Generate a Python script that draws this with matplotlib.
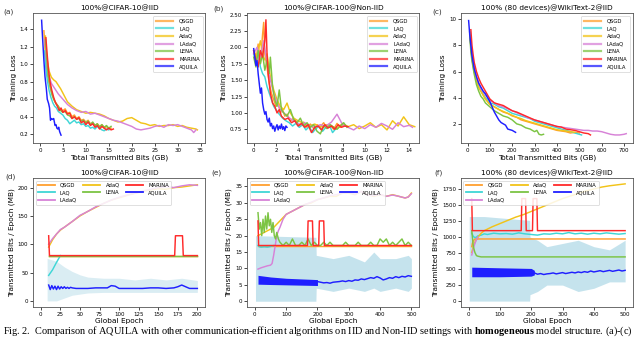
import matplotlib
matplotlib.use("Agg")
import matplotlib.pyplot as plt
import numpy as np

# ---------------- colours ----------------
C_QSGD = '#FF9F2E'
C_LAQ = '#3FD6D6'
C_ADAQ = '#F2C318'
C_LADAQ = '#D782D7'
C_LENA = '#7CC443'
C_MARINA = '#FF2A2A'
C_AQUILA = '#1F1FFF'
C_RAW = '#ADD8E6'

# ---------------- (a) CIFAR-10 IID: training loss ----------------
a_aquila_x = [0.37, 0.6, 0.87, 1.1, 1.4, 1.6, 1.9, 2.1, 2.3, 2.5, 2.8, 3.0, 3.3, 3.5, 3.7, 3.9, 4.1, 4.3, 4.6]
a_aquila_y = [1.50, 1.28, 1.04, 0.86, 0.72, 0.60, 0.55, 0.50, 0.36, 0.38, 0.37, 0.38, 0.30, 0.31, 0.27, 0.26, 0.28, 0.23, 0.19]
a_qsgd_x = [0.87, 1.1, 1.4, 1.7, 2.0, 2.4, 2.8, 3.2, 3.6, 4.0, 4.5, 5.0, 5.5, 6.0, 6.5, 7.0, 7.5, 8.0, 8.5, 9.0, 9.5, 10, 10.5, 11, 11.5, 12, 12.5, 13, 13.5, 14, 14.5, 15, 15.5]
a_qsgd_y = [1.38, 1.18, 0.98, 0.86, 0.78, 0.70, 0.63, 0.58, 0.55, 0.52, 0.48, 0.47, 0.49, 0.44, 0.45, 0.40, 0.42, 0.38, 0.40, 0.36, 0.37, 0.34, 0.36, 0.32, 0.33, 0.30, 0.32, 0.29, 0.31, 0.27, 0.29, 0.26, 0.27]
a_laq_x = [1.0, 1.3, 1.6, 2.0, 2.4, 2.8, 3.2, 3.6, 4.0, 4.5, 5.0, 5.5, 6.0, 6.5, 7.0, 7.5, 8.0, 8.5, 9.0, 9.5, 10, 10.5, 11, 11.5, 12, 12.5, 13, 13.5, 14, 14.5, 15]
a_laq_y = [1.15, 0.95, 0.82, 0.70, 0.62, 0.56, 0.52, 0.50, 0.46, 0.44, 0.42, 0.38, 0.36, 0.32, 0.34, 0.36, 0.33, 0.34, 0.31, 0.32, 0.29, 0.30, 0.27, 0.28, 0.26, 0.29, 0.27, 0.25, 0.24, 0.26, 0.25]
a_adaq_x = [1.2, 1.5, 2.0, 2.5, 3.0, 3.5, 4, 4.5, 5, 5.5, 6, 7, 8, 9, 10, 11, 12, 13, 14, 15, 16, 17, 18, 19, 20, 21, 22, 23, 24, 25, 26, 27, 28, 29, 30, 31, 32, 33, 34, 34.3]
a_adaq_y = [1.32, 1.08, 0.92, 0.85, 0.82, 0.80, 0.76, 0.72, 0.67, 0.62, 0.57, 0.52, 0.48, 0.46, 0.44, 0.45, 0.44, 0.43, 0.41, 0.38, 0.36, 0.34, 0.35, 0.38, 0.39, 0.36, 0.33, 0.32, 0.30, 0.31, 0.29, 0.30, 0.30, 0.31, 0.29, 0.30, 0.28, 0.27, 0.26, 0.25]
a_ladaq_x = [1.1, 1.5, 2.0, 2.5, 3.0, 3.5, 4, 4.5, 5, 5.5, 6, 7, 8, 9, 10, 11, 12, 13, 14, 15, 16, 17, 18, 19, 20, 21, 22, 23, 24, 25, 26, 27, 28, 29, 30, 31, 32, 33, 33.5, 34]
a_ladaq_y = [1.28, 1.00, 0.86, 0.78, 0.74, 0.70, 0.66, 0.63, 0.60, 0.57, 0.54, 0.50, 0.47, 0.45, 0.46, 0.43, 0.44, 0.42, 0.40, 0.38, 0.36, 0.35, 0.33, 0.31, 0.29, 0.26, 0.25, 0.26, 0.27, 0.29, 0.30, 0.28, 0.31, 0.30, 0.31, 0.29, 0.27, 0.25, 0.22, 0.25]
a_lena_x = [1.2, 1.5, 1.8, 2.2, 2.6, 3.0, 3.5, 4.0, 4.5, 5.0, 5.5, 6.0, 6.5, 7.0, 7.5, 8.0, 8.5, 9.0, 9.5, 10, 10.5, 11, 11.5, 12, 12.5, 13, 13.5, 14, 14.5, 15, 15.5]
a_lena_y = [1.28, 1.05, 0.88, 0.76, 0.66, 0.60, 0.55, 0.52, 0.47, 0.45, 0.46, 0.42, 0.41, 0.38, 0.40, 0.37, 0.38, 0.35, 0.36, 0.33, 0.35, 0.31, 0.34, 0.30, 0.32, 0.28, 0.31, 0.28, 0.30, 0.27, 0.29]
a_marina_x = [1.3, 1.6, 1.9, 2.2, 2.6, 3.0, 3.4, 3.8, 4.2, 4.6, 5.0, 5.5, 6.0, 6.5, 7.0, 7.5, 8.0, 8.5, 9.0, 9.5, 10, 10.5, 11, 11.5, 12, 12.5, 13, 13.5, 14, 14.5, 15, 15.5, 16]
a_marina_y = [1.30, 1.10, 0.92, 0.80, 0.70, 0.62, 0.56, 0.52, 0.47, 0.50, 0.45, 0.47, 0.43, 0.44, 0.38, 0.40, 0.37, 0.39, 0.33, 0.35, 0.31, 0.34, 0.30, 0.32, 0.28, 0.30, 0.26, 0.29, 0.27, 0.25, 0.27, 0.25, 0.26]

# ---------------- (b) CIFAR-100 Non-IID: training loss ----------------
b_aquila_x = [0.0, 0.1, 0.2, 0.3, 0.4, 0.5, 0.6, 0.7, 0.8, 0.9, 1.0, 1.1, 1.2, 1.3, 1.4, 1.5, 1.6, 1.7, 1.8, 1.9, 2.0, 2.1, 2.2, 2.3, 2.4, 2.5, 2.6, 2.7, 2.8, 2.9, 3.0]
b_aquila_y = [1.98, 1.85, 1.72, 1.80, 1.60, 1.45, 1.30, 1.38, 1.15, 1.05, 0.98, 1.02, 0.90, 0.86, 0.92, 0.80, 0.84, 0.76, 0.80, 0.72, 0.78, 0.82, 0.74, 0.80, 0.76, 0.83, 0.75, 0.79, 0.73, 0.80, 0.78]
b_qsgd_x = [0.0, 0.2, 0.4, 0.6, 0.8, 0.9, 1.0, 1.2, 1.4, 1.6, 1.8, 2.0, 2.2, 2.4, 2.6, 2.8, 3.0, 3.3, 3.6, 3.9, 4.2, 4.5, 4.8, 5.1, 5.4, 5.7, 6.0, 6.3, 6.6, 6.9, 7.2, 7.5, 7.8, 8.1, 8.4]
b_qsgd_y = [1.95, 1.80, 2.05, 1.75, 2.20, 2.38, 1.90, 1.70, 1.45, 1.30, 1.20, 1.10, 1.15, 1.00, 1.05, 0.95, 0.98, 0.88, 0.92, 0.85, 0.80, 0.86, 0.78, 0.83, 0.76, 0.82, 0.79, 0.85, 0.77, 0.81, 0.75, 0.84, 0.78, 0.82, 0.79]
b_laq_x = [0.0, 0.2, 0.4, 0.6, 0.8, 1.0, 1.2, 1.4, 1.6, 1.8, 2.0, 2.3, 2.6, 2.9, 3.2, 3.5, 3.8, 4.1, 4.4, 4.7, 5.0, 5.3, 5.6, 5.9, 6.2, 6.5, 6.8, 7.1, 7.4]
b_laq_y = [1.90, 1.75, 1.95, 1.70, 1.60, 1.55, 1.40, 1.30, 1.20, 1.10, 1.05, 0.98, 0.92, 0.88, 0.85, 0.80, 0.84, 0.78, 0.82, 0.74, 0.79, 0.70, 0.76, 0.80, 0.72, 0.78, 0.82, 0.70, 0.76]
b_adaq_x = [0.0, 0.3, 0.6, 0.9, 1.2, 1.5, 1.8, 2.1, 2.4, 2.7, 3.0, 3.3, 3.6, 4.0, 4.5, 5.0, 5.5, 6.0, 6.5, 7.0, 7.5, 8.0, 8.5, 9.0, 9.5, 10.0, 10.5, 11.0, 11.5, 12.0, 12.5, 13.0, 13.5, 14.0, 14.5]
b_adaq_y = [1.95, 1.85, 2.10, 1.80, 1.90, 1.55, 1.35, 1.20, 1.10, 1.05, 1.15, 1.00, 0.92, 0.88, 0.84, 0.80, 0.83, 0.78, 0.82, 0.80, 0.76, 0.84, 0.79, 0.82, 0.76, 0.80, 0.85, 0.78, 0.82, 0.74, 0.88, 0.80, 0.94, 0.82, 0.79]
b_ladaq_x = [0.0, 0.3, 0.6, 0.9, 1.2, 1.5, 1.8, 2.1, 2.4, 2.7, 3.0, 3.4, 3.8, 4.2, 4.6, 5.0, 5.5, 6.0, 6.5, 7.0, 7.5, 8.0, 8.5, 9.0, 9.5, 10, 10.5, 11, 11.5, 12, 12.5, 13, 13.5, 14, 14.3]
b_ladaq_y = [1.90, 2.00, 1.85, 2.10, 1.75, 1.50, 1.30, 1.15, 1.05, 1.00, 0.95, 0.90, 0.86, 0.82, 0.85, 0.80, 0.78, 0.82, 0.80, 0.86, 0.98, 0.82, 0.78, 0.74, 0.80, 0.76, 0.82, 0.78, 0.84, 0.80, 0.75, 0.85, 0.79, 0.81, 0.78]
b_lena_x = [0.0, 0.2, 0.4, 0.6, 0.8, 1.0, 1.2, 1.4, 1.5, 1.7, 1.9, 2.1, 2.3, 2.5, 2.7, 3.0, 3.3, 3.6, 3.9, 4.2, 4.5, 4.8, 5.1, 5.4, 5.7, 6.0, 6.3, 6.6, 6.9, 7.2, 7.5, 7.8, 8.1, 8.4]
b_lena_y = [1.85, 1.70, 1.95, 1.75, 1.90, 1.65, 1.80, 1.60, 1.85, 1.40, 1.20, 1.10, 1.35, 1.05, 1.00, 0.95, 1.05, 0.90, 0.85, 0.92, 0.80, 0.85, 0.78, 0.82, 0.72, 0.68, 0.80, 0.76, 0.82, 0.78, 0.75, 0.80, 0.85, 0.78]
b_marina_x = [0.0, 0.2, 0.4, 0.6, 0.8, 1.0, 1.1, 1.2, 1.3, 1.5, 1.7, 1.9, 2.1, 2.3, 2.5, 2.8, 3.1, 3.4, 3.7, 4.0, 4.3, 4.6, 4.9, 5.2, 5.5, 5.8, 6.1, 6.4, 6.7, 7.0, 7.3, 7.6, 7.9, 8.2, 8.5]
b_marina_y = [1.95, 1.80, 1.70, 1.95, 1.85, 2.10, 2.42, 1.90, 1.60, 1.30, 1.15, 1.10, 1.00, 1.05, 0.95, 0.90, 0.92, 0.85, 0.88, 0.80, 0.84, 0.78, 0.82, 0.70, 0.78, 0.80, 0.74, 0.82, 0.77, 0.80, 0.75, 0.82, 0.78, 0.80, 0.79]

# ---------------- (c) WikiText-2 IID: training loss ----------------
c_aquila_x = [5, 10, 15, 20, 30, 40, 50, 60, 70, 80, 90, 100, 110, 120, 130, 140, 150, 160, 170, 180, 190, 200, 210, 215]
c_aquila_y = [9.9, 8.8, 8.0, 7.2, 6.2, 5.6, 5.1, 4.8, 4.5, 4.3, 4.0, 3.7, 3.3, 2.9, 2.6, 2.3, 2.1, 2.0, 1.9, 1.6, 1.55, 1.5, 1.4, 1.35]
c_lena_x = [10, 15, 20, 30, 40, 50, 60, 70, 80, 100, 120, 140, 160, 180, 200, 220, 240, 260, 280, 300, 310, 320, 330, 340]
c_lena_y = [8.8, 7.5, 6.8, 5.8, 5.0, 4.5, 4.1, 3.9, 3.6, 3.3, 3.0, 2.8, 2.6, 2.5, 2.3, 2.0, 1.9, 1.7, 1.6, 1.4, 1.5, 1.2, 1.15, 1.2]
c_qsgd_x = [10, 15, 20, 30, 40, 50, 60, 80, 100, 120, 140, 160, 180, 200, 220, 240, 260, 280, 300, 320, 340, 360, 380, 400, 420, 440, 460, 480, 500]
c_qsgd_y = [9.0, 7.8, 7.0, 6.0, 5.3, 4.8, 4.5, 3.9, 3.5, 3.3, 3.1, 2.9, 2.8, 2.6, 2.5, 2.3, 2.2, 2.1, 2.0, 1.9, 1.8, 1.7, 1.6, 1.5, 1.45, 1.4, 1.3, 1.35, 1.3]
c_laq_x = [10, 15, 20, 30, 40, 50, 60, 80, 100, 120, 140, 160, 180, 200, 220, 240, 260, 280, 300, 320, 340, 360, 380, 400, 420, 440, 460, 480, 500, 510]
c_laq_y = [9.0, 7.9, 7.1, 6.1, 5.4, 4.9, 4.6, 4.0, 3.6, 3.5, 3.3, 3.2, 3.0, 2.8, 2.7, 2.6, 2.5, 2.4, 2.2, 2.1, 2.0, 1.9, 1.8, 1.7, 1.6, 1.5, 1.4, 1.3, 1.2, 1.15]
c_adaq_x = [10, 20, 30, 40, 50, 60, 80, 100, 120, 140, 160, 180, 200, 220, 240, 260, 280, 300, 320, 340, 360, 380, 400, 420, 440, 460, 480]
c_adaq_y = [9.0, 7.0, 6.0, 5.3, 4.8, 4.5, 3.9, 3.5, 3.3, 3.1, 2.95, 2.8, 2.65, 2.5, 2.4, 2.25, 2.15, 2.05, 1.95, 1.85, 1.75, 1.65, 1.55, 1.5, 1.45, 1.4, 1.35]
c_marina_x = [15, 20, 25, 30, 40, 50, 60, 70, 80, 100, 120, 140, 160, 180, 200, 220, 240, 260, 280, 300, 320, 340, 360, 380, 400, 420, 440, 460, 480, 500, 520, 540, 550]
c_marina_y = [9.2, 8.0, 7.3, 6.7, 6.0, 5.5, 5.1, 4.8, 4.5, 3.9, 3.6, 3.5, 3.4, 3.2, 3.0, 2.9, 2.75, 2.6, 2.45, 2.3, 2.2, 2.1, 2.0, 1.9, 1.8, 1.75, 1.6, 1.55, 1.5, 1.4, 1.3, 1.25, 1.15]
c_ladaq_x = [10, 20, 30, 40, 60, 80, 100, 120, 140, 160, 180, 200, 220, 240, 260, 280, 300, 320, 340, 360, 380, 400, 420, 440, 460, 480, 500, 520, 540, 560, 580, 600, 620, 640, 660, 680, 700, 710]
c_ladaq_y = [9.0, 7.4, 6.3, 5.6, 4.7, 4.2, 3.8, 3.6, 3.4, 3.3, 3.15, 3.0, 2.85, 2.7, 2.55, 2.4, 2.3, 2.2, 2.1, 2.0, 1.9, 1.8, 1.75, 1.7, 1.65, 1.6, 1.55, 1.5, 1.5, 1.45, 1.45, 1.4, 1.3, 1.2, 1.15, 1.15, 1.2, 1.25]

# ---------------- (d) CIFAR-10 IID: bits per epoch ----------------
d_qsgd_x = [10, 200]
d_qsgd_y = [80, 80]
d_lena_x = [10, 200]
d_lena_y = [80, 80]
d_laq_x = [10, 15, 20, 25]
d_laq_y = [45, 55, 68, 80]
d_marina_x = [10, 11, 171, 172, 181, 182, 200]
d_marina_y = [115, 80, 80, 115, 115, 80, 80]
d_adaq_x = [10, 15, 20, 25, 30, 40, 50, 60, 70, 80, 90, 100, 110, 120, 130, 140, 150, 160, 170, 180, 190, 200]
d_adaq_y = [95, 108, 118, 125, 130, 140, 150, 158, 165, 172, 178, 182, 186, 190, 193, 196, 198, 197, 200, 201, 203, 205]
d_ladaq_x = [10, 15, 20, 25, 30, 40, 50, 60, 70, 80, 90, 100, 110, 120, 130, 140, 150, 160, 170, 180, 190, 200]
d_ladaq_y = [100, 110, 118, 126, 130, 140, 151, 158, 166, 172, 178, 183, 187, 190, 194, 197, 200, 202, 200, 203, 205, 204]
d_aquila_x = [10, 12, 14, 16, 18, 20, 22, 24, 26, 28, 30, 32, 34, 36, 38, 40, 45, 50, 60, 70, 80, 85, 90, 95, 100, 105, 110, 120, 130, 140, 150, 160, 170, 175, 180, 185, 190, 195, 200]
d_aquila_y = [28, 20, 27, 21, 26, 20, 26, 21, 25, 22, 25, 22, 24, 22, 24, 23, 22, 22, 22, 23, 23, 23, 27, 26, 22, 22, 22, 22, 22, 23, 23, 22, 23, 25, 28, 25, 22, 22, 22]
d_raw_x = [8, 20, 30, 40, 50, 60, 80, 100, 120, 140, 160, 180, 200]
d_raw_hi = [75, 70, 60, 52, 46, 42, 40, 40, 37, 40, 37, 40, 36]
d_raw_lo = [0, 0, 5, 10, 12, 14, 15, 15, 15, 15, 15, 15, 15]

# ---------------- (e) CIFAR-100 Non-IID: bits per epoch ----------------
e_qsgd_x = [10, 500]
e_qsgd_y = [17, 17]
e_laq_x = [10, 15, 20, 30, 40, 50, 60]
e_laq_y = [17, 16.6, 16.5, 16.6, 16.5, 16.7, 17]
e_lena_x = [10, 14, 18, 22, 26, 30, 34, 38, 42, 46, 50, 54, 58, 62, 66, 70, 75, 80, 90, 100, 110, 120, 130, 140, 150, 160, 170, 180, 190, 200, 210, 220, 230, 240, 250, 260, 270, 280, 290, 300, 310, 320, 330, 340, 350, 360, 370, 380, 390, 400, 410, 420, 430, 440, 450, 460, 470, 480, 490, 500]
e_lena_y = [27, 22, 24, 20, 25, 21, 26, 22, 27, 23, 25, 21, 24, 20, 19, 21, 19, 18, 17, 18, 17, 19, 17, 17, 18, 17, 19, 17, 18, 17, 17, 18, 17, 18, 17, 17, 17, 17, 18, 17, 17, 17, 18, 17, 17, 17, 18, 17, 17, 19, 18, 19, 17, 18, 17, 18, 19, 17, 18, 17]
e_marina_x = [10, 12, 168, 170, 184, 186, 204, 206, 220, 222, 500]
e_marina_y = [24.5, 17, 17, 24.5, 24.5, 17, 17, 24.5, 24.5, 17, 17]
e_adaq_x = [10, 20, 30, 40, 50, 60, 70, 80, 90, 100, 120, 140, 160, 180, 200, 220, 240, 260, 280, 300, 320, 340, 360, 380, 400, 420, 440, 460, 480, 490, 500]
e_adaq_y = [20, 20.5, 21, 21.5, 22, 22.5, 23.5, 24.5, 25.5, 26.5, 27.5, 28.5, 29.5, 30, 31, 31.5, 32, 32, 33, 33, 32.5, 33.5, 32.5, 32, 32.5, 32, 32.5, 32, 31.5, 31.8, 33]
e_ladaq_x = [10, 20, 30, 40, 50, 55, 60, 65, 70, 75, 80, 90, 100, 120, 140, 160, 180, 200, 220, 240, 260, 280, 300, 320, 340, 360, 380, 400, 420, 440, 460, 480, 490, 500]
e_ladaq_y = [9.8, 10.2, 10.5, 10.8, 11, 11.5, 14, 17, 20, 21.5, 22.5, 25, 26.5, 27.5, 28.5, 29.5, 30.2, 31, 31.5, 32.2, 32.5, 33, 33.2, 32.6, 33.5, 32.4, 32.2, 32.6, 32, 32.4, 32, 31.5, 31.8, 32.8]
e_aqband_x = [10, 50, 100, 150, 200]
e_aqband_hi = [7.9, 7.4, 7.0, 6.8, 6.6]
e_aqband_lo = [5.2, 5.1, 5.0, 4.9, 4.8]
e_aquila_x = [200, 210, 220, 230, 240, 250, 260, 270, 280, 290, 300, 310, 320, 330, 340, 350, 360, 370, 380, 390, 400, 410, 420, 430, 440, 450, 460, 470, 480, 490, 500]
e_aquila_y = [6.0, 5.8, 5.6, 5.7, 5.5, 5.8, 5.9, 6.0, 6.2, 6.0, 6.3, 6.1, 6.5, 6.4, 6.8, 6.6, 6.9, 7.2, 7.0, 7.5, 7.1, 6.5, 6.8, 7.2, 7.0, 7.5, 7.2, 7.6, 7.4, 7.8, 7.6]
e_raw_x = [2, 195, 196, 250, 300, 350, 380, 400, 450, 490, 500]
e_raw_hi = [20, 19.5, 14, 13, 14, 12, 15, 13, 13, 14, 13]
e_raw_lo = [0, 0, 4, 3, 4, 3, 4, 3, 4, 3, 4]

# ---------------- (f) WikiText-2 IID: bits per epoch ----------------
f_qsgd_x = [10, 12, 15, 20, 500]
f_qsgd_y = [850, 900, 940, 970, 970]
f_laq_x = [10, 15, 20, 25, 30, 40, 50, 60, 80, 100, 120, 140, 160, 180, 200, 220, 240, 260, 280, 300, 320, 340, 360, 380, 400, 420, 440, 460, 480, 500]
f_laq_y = [1060, 1010, 990, 1000, 1020, 1030, 1050, 1040, 1060, 1050, 1055, 1045, 1065, 1050, 1040, 1030, 1050, 1045, 1060, 1050, 1070, 1050, 1060, 1045, 1060, 1050, 1065, 1055, 1045, 1055]
f_adaq_x = [10, 15, 20, 30, 40, 50, 75, 100, 125, 150, 175, 200, 225, 250, 275, 300, 325, 350, 375, 400, 425, 450, 475, 500]
f_adaq_y = [760, 850, 920, 1000, 1060, 1100, 1160, 1210, 1260, 1310, 1350, 1400, 1450, 1500, 1550, 1600, 1640, 1680, 1720, 1750, 1780, 1800, 1815, 1830]
f_ladaq_x = [10, 15, 20, 25, 30]
f_ladaq_y = [720, 820, 900, 960, 1000]
f_lena_x = [10, 15, 20, 25, 30, 40, 500]
f_lena_y = [1100, 850, 760, 710, 700, 690, 690]
f_marina_x = [10, 12, 168, 170, 182, 184, 204, 206, 218, 220, 500]
f_marina_y = [1600, 1100, 1100, 1600, 1600, 1100, 1100, 1600, 1600, 1100, 1100]
f_aqband_x = [10, 100, 200, 210]
f_aqband_hi = [530, 520, 510, 480]
f_aqband_lo = [380, 380, 390, 410]
f_aquila_x = [210, 220, 230, 240, 250, 260, 270, 280, 290, 300, 310, 320, 330, 340, 350, 360, 370, 380, 390, 400, 410, 420, 430, 440, 450, 460, 470, 480, 490, 500]
f_aquila_y = [440, 420, 430, 415, 425, 430, 440, 425, 435, 445, 430, 440, 450, 440, 455, 445, 460, 450, 470, 455, 465, 475, 460, 470, 480, 465, 475, 485, 470, 480]
f_raw_x = [2, 50, 195, 196, 220, 250, 300, 350, 400, 450, 500]
f_raw_hi = [1320, 1320, 1260, 1000, 950, 850, 900, 950, 850, 800, 950]
f_raw_lo = [0, 0, 0, 100, 150, 250, 250, 150, 200, 300, 300]

# ---------------- figure ----------------
plt.rcParams['font.family'] = 'DejaVu Sans'
plt.rcParams['mathtext.fontset'] = 'custom'
plt.rcParams['mathtext.rm'] = 'Liberation Serif'
plt.rcParams['mathtext.bf'] = 'Liberation Serif:bold'
fig = plt.figure(figsize=(6.4, 3.39), dpi=100)

W = 0.269
lefts = [0.0516, 0.386, 0.720]
top_b, top_h = 0.578, 0.383
bot_b, bot_h = 0.094, 0.381

LW = 1.05
FS_LAB = 5.3
FS_TICK = 4.0
FS_LEG = 3.8


def style(ax):
    ax.tick_params(labelsize=FS_TICK, length=2, width=0.5, pad=1.5)
    for s in ax.spines.values():
        s.set_linewidth(0.6)
        s.set_color('#555555')


def top_panel(ax, data, title, xlim, ylim, xticks, yticks, yfmt):
    (aq, qs, la, ad, lad, le, ma) = data
    ax.plot(*qs, color=C_QSGD, lw=LW, label='QSGD')
    ax.plot(*la, color=C_LAQ, lw=LW, label='LAQ')
    ax.plot(*ad, color=C_ADAQ, lw=LW, label='AdaQ')
    ax.plot(*lad, color=C_LADAQ, lw=LW, label='LAdaQ')
    ax.plot(*le, color=C_LENA, lw=LW, label='LENA')
    ax.plot(*ma, color=C_MARINA, lw=LW, label='MARINA')
    ax.plot(*aq, color=C_AQUILA, lw=LW, label='AQUILA')
    ax.set_xlim(*xlim)
    ax.set_ylim(*ylim)
    ax.set_xticks(xticks)
    ax.set_yticks(yticks)
    ax.set_yticklabels([yfmt.format(v) for v in yticks])
    ax.set_title(title, fontsize=FS_LAB, pad=2)
    ax.set_xlabel('Total Transmitted Bits (GB)', fontsize=FS_LAB, labelpad=1)
    ax.set_ylabel('Training Loss', fontsize=FS_LAB, labelpad=2)
    leg = ax.legend(loc='upper right', fontsize=FS_LEG, handlelength=3.2,
                    borderpad=0.5, labelspacing=0.5, handletextpad=1.2,
                    framealpha=0.85, edgecolor='#cccccc', fancybox=True)
    for h in leg.get_lines():
        h.set_linewidth(1.6)
        h.set_alpha(0.75)
    leg.get_frame().set_linewidth(0.5)
    style(ax)


ax_a = fig.add_axes([lefts[0], top_b, W, top_h])
top_panel(ax_a, ((a_aquila_x, a_aquila_y), (a_qsgd_x, a_qsgd_y), (a_laq_x, a_laq_y),
                 (a_adaq_x, a_adaq_y), (a_ladaq_x, a_ladaq_y), (a_lena_x, a_lena_y),
                 (a_marina_x, a_marina_y)),
          '100%@CIFAR-10@IID', (-1.5, 36), (0.10, 1.58),
          [0, 5, 10, 15, 20, 25, 30, 35], [0.2, 0.4, 0.6, 0.8, 1.0, 1.2, 1.4], '{:.1f}')

ax_b = fig.add_axes([lefts[1], top_b, W, top_h])
top_panel(ax_b, ((b_aquila_x, b_aquila_y), (b_qsgd_x, b_qsgd_y), (b_laq_x, b_laq_y),
                 (b_adaq_x, b_adaq_y), (b_ladaq_x, b_ladaq_y), (b_lena_x, b_lena_y),
                 (b_marina_x, b_marina_y)),
          '100%@CIFAR-100@Non-IID', (-0.6, 14.9), (0.54, 2.52),
          [0, 2, 4, 6, 8, 10, 12, 14], [0.75, 1.0, 1.25, 1.5, 1.75, 2.0, 2.25, 2.5], '{:.2f}')

ax_c = fig.add_axes([lefts[2], top_b, W, top_h])
top_panel(ax_c, ((c_aquila_x, c_aquila_y), (c_qsgd_x, c_qsgd_y), (c_laq_x, c_laq_y),
                 (c_adaq_x, c_adaq_y), (c_ladaq_x, c_ladaq_y), (c_lena_x, c_lena_y),
                 (c_marina_x, c_marina_y)),
          '100% (80 devices)@WikiText-2@IID', (-30, 740), (0.53, 10.46),
          [0, 100, 200, 300, 400, 500, 600, 700], [2, 4, 6, 8, 10], '{:d}')


def bottom_panel(ax, d, title, xlim, ylim, xticks, yticks):
    ax.fill_between(d['raw'][0], d['raw'][1], d['raw'][2], color=C_RAW,
                    alpha=d['raw_alpha'], lw=0)
    l_q, = ax.plot(*d['qsgd'], color=C_QSGD, lw=LW, label='QSGD')
    l_l, = ax.plot(*d['laq'], color=C_LAQ, lw=LW, label='LAQ')
    l_a, = ax.plot(*d['adaq'], color=C_ADAQ, lw=LW, label='AdaQ')
    l_la, = ax.plot(*d['ladaq'], color=C_LADAQ, lw=LW, label='LAdaQ')
    l_le, = ax.plot(*d['lena'], color=C_LENA, lw=LW, label='LENA')
    l_m, = ax.plot(*d['marina'], color=C_MARINA, lw=LW, label='MARINA')
    if 'band' in d:
        ax.fill_between(d['band'][0], d['band'][1], d['band'][2], color=C_AQUILA, lw=0)
    l_aq, = ax.plot(*d['aquila'], color=C_AQUILA, lw=LW, label='AQUILA')
    ax.set_xlim(*xlim)
    ax.set_ylim(*ylim)
    ax.set_xticks(xticks)
    ax.set_yticks(yticks)
    ax.set_title(title, fontsize=FS_LAB, pad=2)
    ax.set_xlabel('Global Epoch', fontsize=FS_LAB, labelpad=1)
    ax.set_ylabel('Transmitted Bits / Epoch (MB)', fontsize=FS_LAB, labelpad=2)
    handles = [l_q, l_l, l_la, l_a, l_le, l_m, l_aq]
    leg = ax.legend(handles=handles, labels=[h.get_label() for h in handles],
                    loc='upper left', ncol=3, fontsize=FS_LEG, handlelength=3.2,
                    borderpad=0.4, labelspacing=0.45, handletextpad=1.0,
                    columnspacing=1.2, framealpha=0.85, edgecolor='#cccccc')
    for h in leg.get_lines():
        h.set_linewidth(1.3)
    leg.get_frame().set_linewidth(0.5)
    style(ax)


ax_d = fig.add_axes([lefts[0], bot_b, W, bot_h])
bottom_panel(ax_d, {'raw': (d_raw_x, d_raw_lo, d_raw_hi), 'raw_alpha': 0.45,
                    'qsgd': (d_qsgd_x, d_qsgd_y), 'laq': (d_laq_x, d_laq_y),
                    'adaq': (d_adaq_x, d_adaq_y), 'ladaq': (d_ladaq_x, d_ladaq_y),
                    'lena': (d_lena_x, d_lena_y), 'marina': (d_marina_x, d_marina_y),
                    'aquila': (d_aquila_x, d_aquila_y)},
             '100%@CIFAR-10@IID', (-10, 210), (-11, 217),
             [0, 25, 50, 75, 100, 125, 150, 175, 200], [0, 50, 100, 150, 200])

ax_e = fig.add_axes([lefts[1], bot_b, W, bot_h])
bottom_panel(ax_e, {'raw': (e_raw_x, e_raw_lo, e_raw_hi), 'raw_alpha': 0.7,
                    'qsgd': (e_qsgd_x, e_qsgd_y), 'laq': (e_laq_x, e_laq_y),
                    'adaq': (e_adaq_x, e_adaq_y), 'ladaq': (e_ladaq_x, e_ladaq_y),
                    'lena': (e_lena_x, e_lena_y), 'marina': (e_marina_x, e_marina_y),
                    'band': (e_aqband_x, e_aqband_lo, e_aqband_hi),
                    'aquila': (e_aquila_x, e_aquila_y)},
             '100%@CIFAR-100@Non-IID', (-25, 525), (-1.8, 37.6),
             [0, 100, 200, 300, 400, 500], [0, 5, 10, 15, 20, 25, 30, 35])

ax_f = fig.add_axes([lefts[2], bot_b, W, bot_h])
bottom_panel(ax_f, {'raw': (f_raw_x, f_raw_lo, f_raw_hi), 'raw_alpha': 0.7,
                    'qsgd': (f_qsgd_x, f_qsgd_y), 'laq': (f_laq_x, f_laq_y),
                    'adaq': (f_adaq_x, f_adaq_y), 'ladaq': (f_ladaq_x, f_ladaq_y),
                    'lena': (f_lena_x, f_lena_y), 'marina': (f_marina_x, f_marina_y),
                    'band': (f_aqband_x, f_aqband_lo, f_aqband_hi),
                    'aquila': (f_aquila_x, f_aquila_y)},
             '100% (80 devices)@WikiText-2@IID', (-25, 525), (-94, 1922),
             [0, 100, 200, 300, 400, 500], [0, 250, 500, 750, 1000, 1250, 1500, 1750])

# panel letters
for (x, y, t) in [(0.005, 0.965, '(a)'), (0.333, 0.975, '(b)'), (0.676, 0.965, '(c)'),
                  (0.008, 0.478, '(d)'), (0.330, 0.490, '(e)'), (0.678, 0.490, '(f)')]:
    fig.text(x, y, t, fontsize=FS_LAB, color='#333333', va='center')

# caption (one text object; the bold word is set with mathtext bold)
caption = ("Fig. 2.  Comparison of AQUILA with other communication-efficient algorithms on IID "
           "and Non-IID settings with $\\mathbf{homogeneous}$ model structure. (a)-(c)")
fig.text(0.004, 0.022, caption, fontsize=7.4, family='Liberation Serif',
         va='center', ha='left')

fig.savefig('out.png', dpi=100)
